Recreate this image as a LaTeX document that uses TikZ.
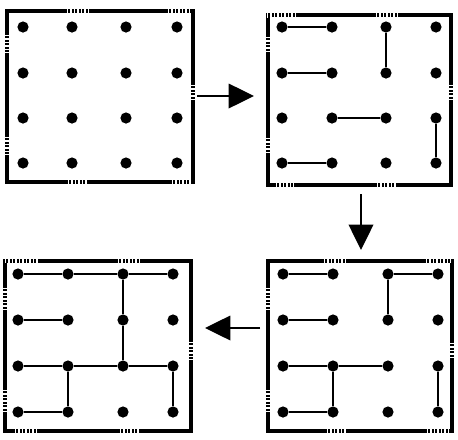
\documentclass[tikz,border=0pt]{standalone}
\usetikzlibrary{arrows.meta}
\begin{document}
\begin{tikzpicture}[x=0.75pt,y=-0.75pt,
  frame/.style={line width=3pt},
  gap/.style={white, line width=3.8pt, dash pattern=on 1pt off 1.6pt},
  dot/.style={circle, fill=black, inner sep=0pt, minimum size=8.4pt},
  link/.style={line width=0.9pt},
  tlink/.style={line width=1.5pt},
  flow/.style={line width=1pt, -{Triangle[length=19pt,width=18.5pt]}}
]
\useasboundingbox[fill=white] (0,0) rectangle (458,440);

% ---------- frames ----------
% panel A (top-left)
\draw[frame] (6.5,11) rectangle (192.5,182);
\draw[gap] (67,11)--(90,11);  \draw[gap] (168,11)--(191,11);
\draw[gap] (6.5,35)--(6.5,53); \draw[gap] (6.5,137)--(6.5,155);
\draw[gap] (192.5,85)--(192.5,102);
\draw[gap] (68,182)--(87,182); \draw[gap] (172,182)--(192,182);
% panel B (top-right)
\draw[frame] (267.5,15) rectangle (450.5,185);
\draw[gap] (267,15)--(296,15); \draw[gap] (376,15)--(397,15);
\draw[gap] (267.5,37)--(267.5,53); \draw[gap] (267.5,138)--(267.5,155);
\draw[gap] (450.5,85)--(450.5,102);
\draw[gap] (276,185)--(294,185); \draw[gap] (377,185)--(396,185);
% panel C (bottom-right)
\draw[frame] (268,260.5) rectangle (451.5,431);
\draw[gap] (324,260.5)--(347,260.5); \draw[gap] (426,260.5)--(451,260.5);
\draw[gap] (268,288)--(268,312); \draw[gap] (268,390)--(268,413);
\draw[gap] (451.5,343)--(451.5,358);
\draw[gap] (327,431)--(346,431); \draw[gap] (427,431)--(451,431);
% panel D (bottom-left)
\draw[frame] (5,260.5) rectangle (190.5,430.5);
\draw[gap] (5,260.5)--(38,260.5); \draw[gap] (118,260.5)--(140,260.5);
\draw[gap] (5,288)--(5,312); \draw[gap] (5,390)--(5,413);
\draw[gap] (190.5,342)--(190.5,360);
\draw[gap] (15,430.5)--(38,430.5); \draw[gap] (120,430.5)--(140,430.5);

% ---------- dots ----------
\foreach \c/\x in {1/23,2/72,3/126,4/177}
  \foreach \r/\y in {1/27,2/73,3/118,4/163}
    \node[dot] (A\r\c) at (\x,\y) {};
\foreach \c/\x in {1/282,2/332,3/386,4/436}
  \foreach \r/\y in {1/27,2/73,3/118,4/163}
    \node[dot] (B\r\c) at (\x,\y) {};
\foreach \c/\x in {1/283,2/333,3/388,4/438}
  \foreach \r/\y in {1/274,2/320,3/366,4/412}
    \node[dot] (C\r\c) at (\x,\y) {};
\foreach \c/\x in {1/18,2/68,3/123,4/173}
  \foreach \r/\y in {1/274,2/320,3/366,4/412}
    \node[dot] (D\r\c) at (\x,\y) {};

% ---------- links ----------
\draw[link] (B11)--(B12); \draw[link] (B21)--(B22);
\draw[link] (B32)--(B33); \draw[link] (B41)--(B42);
\draw[tlink] (B13)--(B23); \draw[tlink] (B34)--(B44);

\draw[link] (C11)--(C12); \draw[link] (C13)--(C14);
\draw[tlink] (C13)--(C23); \draw[tlink] (C21)--(C22);
\draw[tlink] (C31)--(C32); \draw[tlink] (C32)--(C33);
\draw[link] (C32)--(C42); \draw[link] (C34)--(C44);
\draw[link] (C41)--(C42);

\draw[tlink] (D11)--(D12); \draw[tlink] (D12)--(D13); \draw[tlink] (D13)--(D14);
\draw[tlink] (D13)--(D23); \draw[link] (D23)--(D33);
\draw[tlink] (D21)--(D22);
\draw[tlink] (D31)--(D32); \draw[tlink] (D32)--(D33); \draw[tlink] (D33)--(D34);
\draw[link] (D32)--(D42); \draw[link] (D34)--(D44);
\draw[link] (D41)--(D42);

% ---------- flow arrows ----------
\coordinate (f1s) at (197,96);  \coordinate (f1e) at (254,96);
\coordinate (f2s) at (361,194); \coordinate (f2e) at (361,250);
\coordinate (f3s) at (260,328); \coordinate (f3e) at (205,328);
\draw[flow] (f1s)--(f1e);
\draw[flow] (f2s)--(f2e);
\draw[flow] (f3s)--(f3e);
\end{tikzpicture}
\end{document}
